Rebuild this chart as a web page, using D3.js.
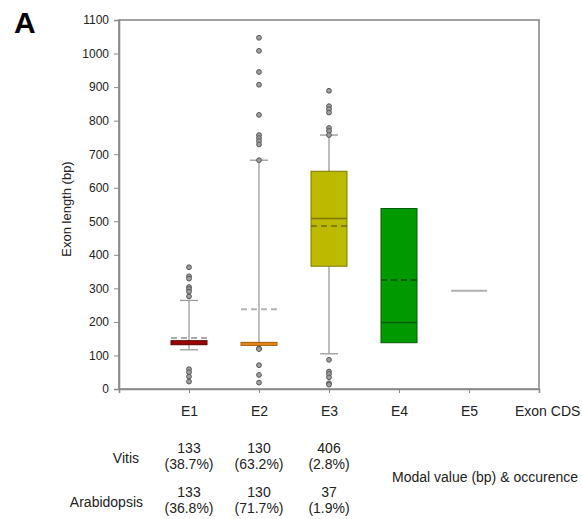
<!DOCTYPE html>
<meta charset="utf-8">
<head>
  <script src="https://d3js.org/d3.v7.min.js"></script>
  <style>
    body { margin: 0; background: #fff; }
    text { font-family: "Liberation Sans", Arial, sans-serif; fill: #222; }
  </style>
</head>
<body>
  <div id="my_dataviz"></div>
</body>
<script>
  // exon categories and box statistics (bp)
  var categories = ["E1", "E2", "E3", "E4", "E5"];
  var q1 = [132, 130, 366, 138, 293];
  var median = [138, 134, 508, 198, 293];
  var q3 = [144, 139, 649, 538, 293];
  var means = [152, 238, 486, 325, 293];
  var whiskerLow = [117, 130, 105, null, null];
  var whiskerHigh = [264, 682, 757, null, null];
  var outliers = [
    [363, 336, 329, 304, 298, 290, 276, 59, 50, 37, 22],
    [1047, 1008, 945, 907, 817, 757, 748, 739, 729, 682, 121, 119, 71, 42, 19],
    [889, 843, 834, 824, 778, 769, 757, 87, 52, 45, 35, 17, 13],
    [],
    []
  ];
  var yTicks = [0, 100, 200, 300, 400, 500, 600, 700, 800, 900, 1000, 1100];

  // modal value table
  var species = ["Vitis", "Arabidopsis"];
  var modalVitis = ["133", "130", "406"];
  var occVitis = ["(38.7%)", "(63.2%)", "(2.8%)"];
  var modalArab = ["133", "130", "37"];
  var occArab = ["(36.8%)", "(71.7%)", "(1.9%)"];

  // box colours
  var boxFill = ["#9a0000", "#e2861c", "#bdb900", "#009a00", "none"];
  var boxLine = ["#5a0000", "#a55a00", "#7c7900", "#005c00", "#b0b0b0"];
  var meanLine = ["#aaaaaa", "#b5b5b5", "#6e6b00", "#004d00", "#b0b0b0"];

  var W = 582, H = 519;
  var svg = d3.select("#my_dataviz").append("svg")
    .attr("width", W).attr("height", H);

  var x = d3.scaleLinear().domain([0, 6]).range([119, 539]);
  var y = d3.scaleLinear().domain([0, 1100]).range([389, 20]);
  var bw = 36, cap = 18;

  // panel letter
  svg.append("text").attr("x", 14).attr("y", 33)
    .style("font-size", "30px").style("font-weight", "bold").style("fill", "#000")
    .text("A");

  // frame
  svg.append("rect")
    .attr("x", x(0)).attr("y", y(1100))
    .attr("width", x(6) - x(0)).attr("height", y(0) - y(1100))
    .attr("fill", "none").attr("stroke", "#8a8a8a").attr("stroke-width", 1.6);

  // y axis
  var yAxis = svg.append("g")
    .attr("transform", "translate(" + x(0) + ",0)")
    .call(d3.axisLeft(y).tickValues(yTicks).tickSize(5).tickPadding(5)
      .tickFormat(d3.format("d")));
  yAxis.select(".domain").attr("stroke", "#8a8a8a").attr("stroke-width", 1.6);
  yAxis.selectAll(".tick line").attr("stroke", "#8a8a8a");
  yAxis.selectAll("text").style("font-size", "12px")
    .style("font-family", "'Liberation Sans', Arial, sans-serif").attr("fill", "#222");

  // x axis
  var xAxis = svg.append("g")
    .attr("transform", "translate(0," + y(0) + ")")
    .call(d3.axisBottom(x).tickValues([1, 2, 3, 4, 5]).tickSize(4)
      .tickFormat(function (d) { return categories[d - 1]; }).tickPadding(13));
  xAxis.select(".domain").attr("stroke", "#8a8a8a").attr("stroke-width", 1.6);
  xAxis.selectAll(".tick line").attr("stroke", "#8a8a8a");
  xAxis.selectAll("text").style("font-size", "14px")
    .style("font-family", "'Liberation Sans', Arial, sans-serif").attr("fill", "#222");

  svg.append("text").attr("x", 515).attr("y", 416)
    .style("font-size", "14px").text("Exon CDS");

  svg.append("text")
    .attr("transform", "translate(71,209) rotate(-90)")
    .attr("text-anchor", "middle")
    .style("font-size", "13px").text("Exon length (bp)");

  var idx = d3.range(categories.length);

  // whiskers
  idx.forEach(function (i) {
    if (whiskerHigh[i] == null) return;
    var cx = x(i + 1);
    var g = svg.append("g").attr("stroke", "#9a9a9a").attr("stroke-width", 1.3);
    g.append("line").attr("x1", cx).attr("x2", cx)
      .attr("y1", y(q3[i])).attr("y2", y(whiskerHigh[i]));
    g.append("line").attr("x1", cx).attr("x2", cx)
      .attr("y1", y(q1[i])).attr("y2", y(whiskerLow[i]));
    g.append("line").attr("x1", cx - cap / 2).attr("x2", cx + cap / 2)
      .attr("y1", y(whiskerHigh[i])).attr("y2", y(whiskerHigh[i]));
    if (whiskerLow[i] < q1[i]) {
      g.append("line").attr("x1", cx - cap / 2).attr("x2", cx + cap / 2)
        .attr("y1", y(whiskerLow[i])).attr("y2", y(whiskerLow[i]));
    }
  });

  // boxes
  svg.selectAll("rect.box")
    .data(idx.filter(function (i) { return q3[i] > q1[i]; }))
    .enter().append("rect")
    .attr("class", "box")
    .attr("x", function (i) { return x(i + 1) - bw / 2; })
    .attr("y", function (i) { return y(q3[i]); })
    .attr("width", bw)
    .attr("height", function (i) { return y(q1[i]) - y(q3[i]); })
    .attr("fill", function (i) { return boxFill[i]; })
    .attr("stroke", function (i) { return boxLine[i]; })
    .attr("stroke-width", 1);

  // medians
  svg.selectAll("line.median")
    .data(idx)
    .enter().append("line")
    .attr("class", "median")
    .attr("x1", function (i) { return x(i + 1) - bw / 2; })
    .attr("x2", function (i) { return x(i + 1) + bw / 2; })
    .attr("y1", function (i) { return y(median[i]); })
    .attr("y2", function (i) { return y(median[i]); })
    .attr("stroke", function (i) { return i < 2 ? boxFill[i] : boxLine[i]; })
    .attr("stroke-width", function (i) { return i == 4 ? 2 : 1.5; });

  // means (dashed)
  svg.selectAll("line.mean")
    .data(idx.filter(function (i) { return i < 4; }))
    .enter().append("line")
    .attr("class", "mean")
    .attr("x1", function (i) { return x(i + 1) - bw / 2; })
    .attr("x2", function (i) { return x(i + 1) + bw / 2; })
    .attr("y1", function (i) { return y(means[i]); })
    .attr("y2", function (i) { return y(means[i]); })
    .attr("stroke", function (i) { return meanLine[i]; })
    .attr("stroke-width", function (i) { return i < 2 ? 2 : 1.6; })
    .attr("stroke-dasharray", "6,4");

  // outliers
  idx.forEach(function (i) {
    svg.selectAll(null)
      .data(outliers[i])
      .enter().append("circle")
      .attr("cx", x(i + 1))
      .attr("cy", function (d) { return y(d); })
      .attr("r", 2.4)
      .attr("fill", "#a0a0a0")
      .attr("stroke", "#555")
      .attr("stroke-width", 1);
  });

  // modal value table
  var rows = [
    { name: species[0], modal: modalVitis, occ: occVitis, y: 453, nx: 139 },
    { name: species[1], modal: modalArab, occ: occArab, y: 497, nx: 143 }
  ];
  rows.forEach(function (r) {
    svg.append("text").attr("x", r.nx).attr("y", r.y + 10)
      .attr("text-anchor", "end").style("font-size", "14px").text(r.name);
    r.modal.forEach(function (m, j) {
      svg.append("text").attr("x", x(j + 1)).attr("y", r.y)
        .attr("text-anchor", "middle").style("font-size", "14px").text(m);
      svg.append("text").attr("x", x(j + 1)).attr("y", r.y + 16)
        .attr("text-anchor", "middle").style("font-size", "14px").text(r.occ[j]);
    });
  });

  svg.append("text").attr("x", 392).attr("y", 482)
    .style("font-size", "14px").text("Modal value (bp) & occurence");
</script>
